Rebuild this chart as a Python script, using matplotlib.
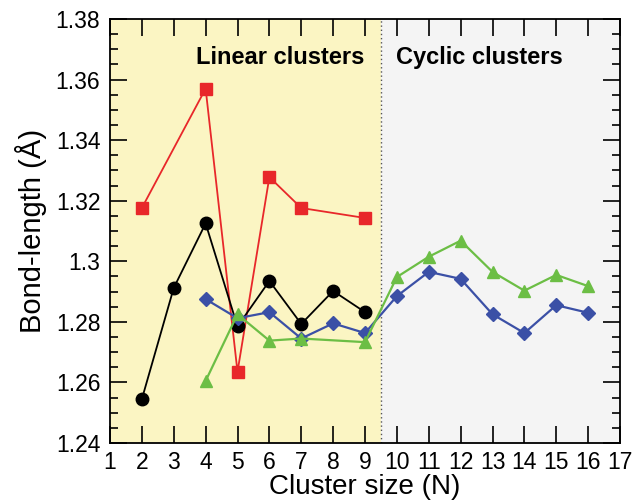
import matplotlib
matplotlib.use("Agg")
import matplotlib.pyplot as plt
from matplotlib.ticker import MultipleLocator, FuncFormatter

plt.rcParams['font.family'] = ['Liberation Sans', 'DejaVu Sans']

# Data
n_red = [2, 4, 5, 6, 7, 9]
v_red = [1.3176, 1.357, 1.2635, 1.3278, 1.3176, 1.3143]

n_black = [2, 3, 4, 5, 6, 7, 8, 9]
v_black = [1.2545, 1.2912, 1.3125, 1.2785, 1.2935, 1.2793, 1.2902, 1.2832]

n_blue = [4, 5, 6, 7, 8, 9, 10, 11, 12, 13, 14, 15, 16]
v_blue = [1.2875, 1.2812, 1.2832, 1.2745, 1.2795, 1.2763, 1.2885, 1.2965, 1.2942,
          1.2825, 1.2763, 1.2855, 1.2830]

n_green = [4, 5, 6, 7, 9, 10, 11, 12, 13, 14, 15, 16]
v_green = [1.2605, 1.2825, 1.2738, 1.2745, 1.2733, 1.2948, 1.3015, 1.3068, 1.2965,
           1.2903, 1.2955, 1.2918]

region_labels = ["Linear clusters", "Cyclic clusters"]
x_ticks = list(range(1, 18))

fig = plt.figure(figsize=(6.33, 5.04), dpi=100)
ax = fig.add_axes([110/633, 1-443/504, (620-110)/633, (443-19)/504])

ax.set_xlim(1, 17)
ax.set_ylim(1.24, 1.38)
ax.axvspan(1, 9.5, color='#FBF5C3', zorder=0, lw=0)
ax.axvspan(9.5, 17, color='#F4F4F4', zorder=0, lw=0)
ax.axvline(9.5, color='#555555', ls=(0, (1, 2)), lw=1.0, zorder=1)

ms = 8
ax.plot(n_red, v_red, '-s', color='#E8272A', lw=1.3, ms=ms, zorder=3)
ax.plot(n_black, v_black, '-o', color='black', lw=1.3, ms=ms+1, zorder=3)
ax.plot(n_blue, v_blue, '-D', color='#3B50A6', lw=1.6, ms=ms-1, zorder=4)
ax.plot(n_green, v_green, '-^', color='#6CBE45', lw=1.6, ms=ms+1, zorder=4)

ax.text(6.35, 1.3674, region_labels[0], ha='center', va='center',
        fontsize=17, fontweight='bold')
ax.text(12.58, 1.3674, region_labels[1], ha='center', va='center',
        fontsize=17, fontweight='bold')

ax.set_xticks(x_ticks)
ax.yaxis.set_major_locator(MultipleLocator(0.02))
ax.yaxis.set_minor_locator(MultipleLocator(0.005))
ax.yaxis.set_major_formatter(FuncFormatter(lambda v, p: ('%.2f' % v).rstrip('0')))
ax.tick_params(axis='both', which='major', direction='in', length=12, width=1.2,
               labelsize=16.5, top=True, right=True, pad=7)
ax.tick_params(axis='both', which='minor', direction='in', length=6, width=1.2,
               top=True, right=True)
ax.tick_params(axis='x', pad=6)

for s in ax.spines.values():
    s.set_linewidth(1.3)

ax.set_xlabel("Cluster size (N)", fontsize=20, labelpad=0)
ax.set_ylabel("Bond-length (Å)", fontsize=21, labelpad=6)

fig.savefig("out.png", dpi=100)
